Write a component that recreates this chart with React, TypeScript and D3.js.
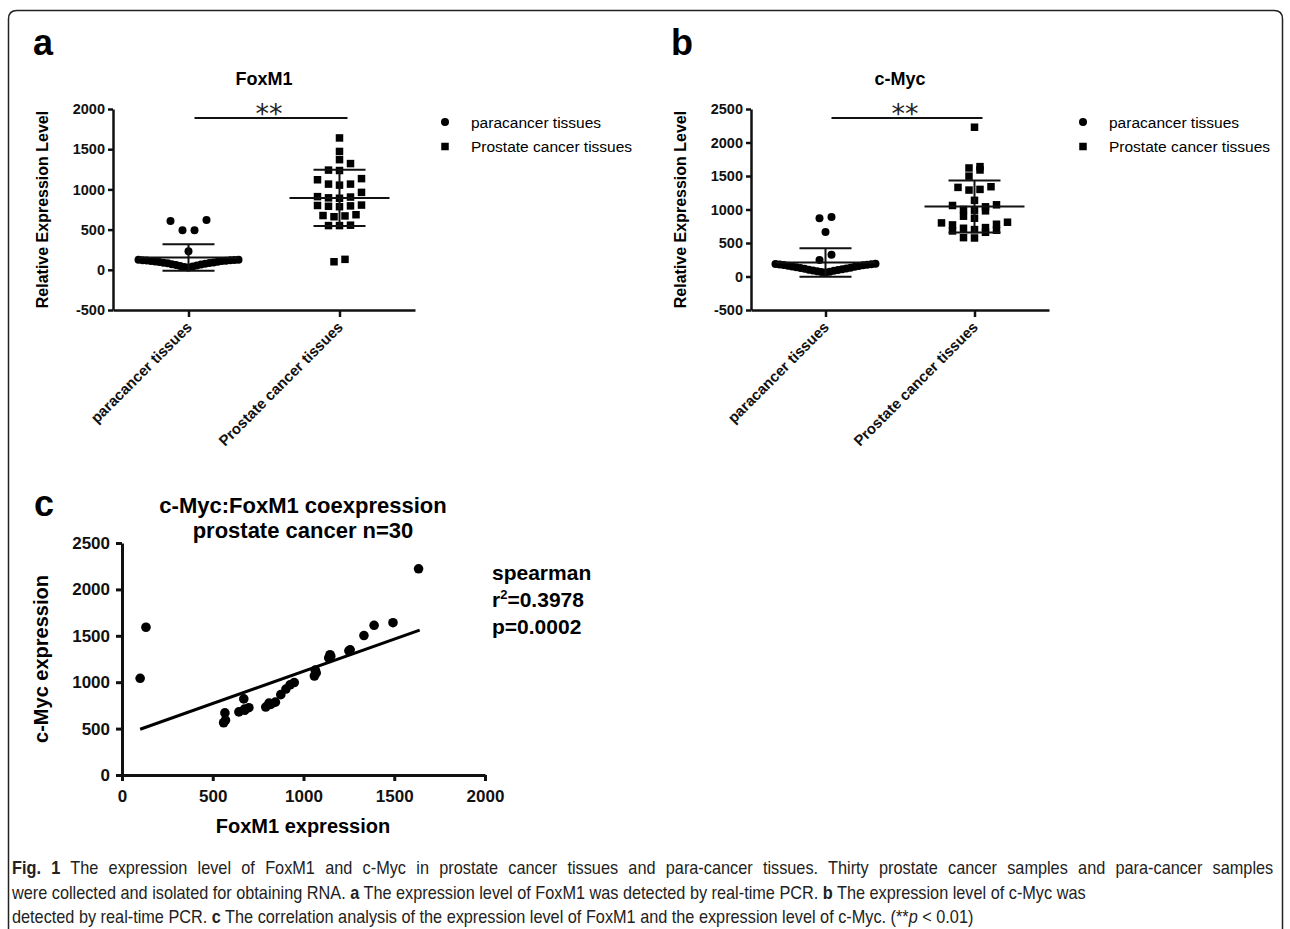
import { useEffect, useRef } from "react";
import * as d3 from "d3";

const FONT = "'Liberation Sans', Arial, Helvetica, sans-serif";

const groups = ["paracancer tissues", "Prostate cancer tissues"];

// panel a: FoxM1 relative expression
const foxm1Para = [
  608, 492, 492, 620, 230,
  30, 35, 42, 48, 55, 60, 65, 70, 75, 80, 84, 88, 92, 96, 100, 104, 108, 111, 114, 116, 118, 120, 122, 124, 125,
];
const foxm1Cancer = [
  1640, 1472, 1370, 1321, 1235, 1240, 1066, 1120, 1053, 1134, 1066, 963, 905, 895, 890,
  910, 800, 790, 785, 795, 805, 670, 660, 675, 685, 550, 550, 555, 100, 130,
];
const ticksA = [-500, 0, 500, 1000, 1500, 2000];

// panel b: c-Myc relative expression
const cmycPara = [
  887, 868, 665, 323, 248,
  60, 66, 72, 78, 84, 90, 96, 102, 108, 114, 120, 126, 132, 138, 144, 150, 156, 162, 168, 172, 176, 180, 184, 187, 190,
];
const cmycCancer = [
  2228, 1620, 1590, 1640, 1498, 1290, 1330, 1300, 1340, 1137, 1060, 1000, 980, 990, 1040,
  1070, 900, 810, 770, 780, 800, 870, 730, 690, 660, 680, 700, 720, 580, 575,
];
const ticksB = [-500, 0, 500, 1000, 1500, 2000, 2500];

// panel c: correlation, prostate cancer n=30
const coFoxm1 = [
  100, 132, 560, 567, 570, 644, 671, 676, 699, 675, 792, 810, 820, 845, 875,
  903, 926, 949, 1060, 1065, 1070, 1139, 1146, 1150, 1250, 1257, 1333, 1389, 1493, 1634,
];
const coCmyc = [
  1042, 1592, 563, 669, 590, 680, 820, 697, 725, 710, 732, 775, 760, 785, 866,
  926, 972, 996, 1067, 1130, 1100, 1261, 1296, 1280, 1338, 1349, 1503, 1613, 1641, 2222,
];
const fitSlope = 0.693;
const fitIntercept = 424;
const fitRange = [100, 1640];
const ticksCX = [0, 500, 1000, 1500, 2000];
const ticksCY = [0, 500, 1000, 1500, 2000, 2500];

const plain = (d) => String(d);

// GraphPad-like column scatter: rows of close values, spread centre-out
function swarm(values, y, rowH, step, maxW) {
  const idx = d3.range(values.length).sort((a, b) => values[a] - values[b]);
  const rows = [];
  let cur = [];
  let y0 = null;
  idx.forEach((i) => {
    const py = y(values[i]);
    if (y0 === null || y0 - py >= rowH) {
      if (cur.length) rows.push(cur);
      cur = [];
      y0 = py;
    }
    cur.push(i);
  });
  if (cur.length) rows.push(cur);
  const off = new Array(values.length).fill(0);
  rows.forEach((r) => {
    const n = r.length;
    const s = n > 1 ? Math.min(step, maxW / (n - 1)) : 0;
    r.forEach((i, k) => {
      let slot;
      if (n % 2 === 1) slot = k === 0 ? 0 : (k % 2 === 1 ? -1 : 1) * Math.ceil(k / 2);
      else slot = (k % 2 === 0 ? -1 : 1) * (Math.floor(k / 2) + 0.5);
      off[i] = slot * s;
    });
  });
  return off;
}

function styleAxis(g, size, stroke) {
  g.attr("font-family", FONT).attr("font-size", size).attr("font-weight", "bold");
  g.select(".domain").attr("stroke", "#111").attr("stroke-width", stroke);
  g.selectAll(".tick line").attr("stroke", "#111").attr("stroke-width", stroke);
  g.selectAll(".tick text").attr("fill", "#111");
}

function drawDotPanel(svg, cfg) {
  const { x0, x1, yTop, yBot, domain, ticks, title, para, cancer, legendX, letter, letterX } = cfg;
  const y = d3.scaleLinear().domain(domain).range([yBot, yTop]);
  const x = d3.scalePoint().domain(groups).range([x0, x1]).padding(0.5);
  const g = svg.append("g");

  g.append("text").attr("x", letterX).attr("y", 55).text(letter)
    .attr("font-family", FONT).attr("font-size", 36).attr("font-weight", "bold");

  g.append("text").attr("x", (x0 + x1) / 2).attr("y", 85).attr("text-anchor", "middle")
    .attr("font-family", FONT).attr("font-size", 18).attr("font-weight", "bold").text(title);

  g.append("g").attr("transform", `translate(${x0},0)`)
    .call(d3.axisLeft(y).tickValues(ticks).tickFormat(plain).tickSize(5).tickSizeOuter(0).tickPadding(3))
    .call((a) => styleAxis(a, 14.5, 2.5));

  g.append("g").attr("transform", `translate(0,${yBot})`)
    .call(d3.axisBottom(x).tickSize(7).tickSizeOuter(0))
    .call((a) => styleAxis(a, 15, 2.5))
    .call((a) => a.selectAll(".tick text")
      .attr("x", 0).attr("y", 0).attr("dy", null)
      .attr("transform", "translate(4,18) rotate(-45)")
      .attr("text-anchor", "end"));

  g.append("text")
    .attr("transform", `translate(${x0 - 65},${(yTop + yBot) / 2}) rotate(-90)`)
    .attr("text-anchor", "middle").attr("font-family", FONT).attr("font-size", 16)
    .attr("font-weight", "bold").text("Relative Expression Level");

  // significance bar
  const sx0 = x(groups[0]) + 6;
  const sx1 = x(groups[1]) + 8;
  g.append("line").attr("x1", sx0).attr("x2", sx1).attr("y1", 118).attr("y2", 118)
    .attr("stroke", "#111").attr("stroke-width", 2);
  g.append("text").attr("x", (sx0 + sx1) / 2 - 2).attr("y", 122.5).attr("text-anchor", "middle")
    .attr("font-family", "'DejaVu Sans', sans-serif").attr("font-size", 27).attr("fill", "#222").text("**");

  // points
  const offP = swarm(para, y, 11, 12, 100);
  g.append("g").selectAll("circle").data(para).join("circle")
    .attr("cx", (d, i) => x(groups[0]) + offP[i]).attr("cy", (d) => y(d))
    .attr("r", 4).attr("fill", "#000");
  const offC = swarm(cancer, y, 8, 11, 100);
  const sq = 7.5;
  g.append("g").selectAll("rect").data(cancer).join("rect")
    .attr("x", (d, i) => x(groups[1]) + offC[i] - sq / 2).attr("y", (d) => y(d) - sq / 2)
    .attr("width", sq).attr("height", sq).attr("fill", "#000");

  // mean +/- SD
  [para, cancer].forEach((vals, gi) => {
    const cx = x(groups[gi]);
    const m = d3.mean(vals);
    const sd = d3.deviation(vals);
    const eb = g.append("g").attr("stroke", "#111").attr("stroke-width", 2);
    eb.append("line").attr("x1", cx - 50).attr("x2", cx + 50).attr("y1", y(m)).attr("y2", y(m));
    eb.append("line").attr("x1", cx).attr("x2", cx).attr("y1", y(m - sd)).attr("y2", y(m + sd));
    [m - sd, m + sd].forEach((v) => {
      eb.append("line").attr("x1", cx - 26).attr("x2", cx + 26).attr("y1", y(v)).attr("y2", y(v));
    });
  });

  // legend
  const lg = g.append("g").attr("font-family", FONT).attr("font-size", 15.5);
  lg.append("circle").attr("cx", legendX).attr("cy", 122).attr("r", 4);
  lg.append("rect").attr("x", legendX - sq / 2).attr("y", 146.5 - sq / 2).attr("width", sq).attr("height", sq);
  lg.append("text").attr("x", legendX + 26).attr("y", 127.5).text(groups[0]);
  lg.append("text").attr("x", legendX + 26).attr("y", 152).text(groups[1]);
}

const App = () => {
  const svgRef = useRef();

  useEffect(() => {
    const svg = d3.select(svgRef.current);
    svg.selectAll("*").remove();

    // figure frame
    svg.append("path")
      .attr("d", "M8.5,935 L8.5,19 Q8.5,10.5 17,10.5 L1274,10.5 Q1282.5,10.5 1282.5,19 L1282.5,935")
      .attr("fill", "none").attr("stroke", "#222").attr("stroke-width", 1.5);

    drawDotPanel(svg, {
      x0: 113, x1: 415, yTop: 109, yBot: 310, domain: [-500, 2000], ticks: ticksA,
      title: "FoxM1", para: foxm1Para, cancer: foxm1Cancer, legendX: 445, letter: "a", letterX: 33,
    });
    drawDotPanel(svg, {
      x0: 751, x1: 1049, yTop: 109, yBot: 310, domain: [-500, 2500], ticks: ticksB,
      title: "c-Myc", para: cmycPara, cancer: cmycCancer, legendX: 1083, letter: "b", letterX: 671,
    });

    // panel c
    const gc = svg.append("g");
    const x = d3.scaleLinear().domain([0, 2000]).range([122, 485]);
    const y = d3.scaleLinear().domain([0, 2500]).range([775, 543]);

    gc.append("text").attr("x", 34).attr("y", 516).text("c")
      .attr("font-family", FONT).attr("font-size", 36).attr("font-weight", "bold");
    const tt = gc.append("text").attr("text-anchor", "middle").attr("font-family", FONT)
      .attr("font-size", 22).attr("font-weight", "bold");
    tt.append("tspan").attr("x", 303).attr("y", 513).text("c-Myc:FoxM1 coexpression");
    tt.append("tspan").attr("x", 303).attr("y", 538).text("prostate cancer n=30");

    gc.append("g").attr("transform", "translate(122,0)")
      .call(d3.axisLeft(y).tickValues(ticksCY).tickFormat(plain).tickSize(6).tickSizeOuter(0).tickPadding(6))
      .call((a) => styleAxis(a, 17, 3));
    gc.append("g").attr("transform", "translate(0,775)")
      .call(d3.axisBottom(x).tickValues(ticksCX).tickFormat(plain).tickSize(6).tickSizeOuter(0).tickPadding(9))
      .call((a) => styleAxis(a, 17, 3));

    gc.append("text").attr("x", 303).attr("y", 833).attr("text-anchor", "middle")
      .attr("font-family", FONT).attr("font-size", 20).attr("font-weight", "bold").text("FoxM1 expression");
    gc.append("text").attr("transform", "translate(48,659) rotate(-90)").attr("text-anchor", "middle")
      .attr("font-family", FONT).attr("font-size", 20).attr("font-weight", "bold").text("c-Myc expression");

    gc.append("line")
      .attr("x1", x(fitRange[0])).attr("y1", y(fitSlope * fitRange[0] + fitIntercept))
      .attr("x2", x(fitRange[1])).attr("y2", y(fitSlope * fitRange[1] + fitIntercept))
      .attr("stroke", "#000").attr("stroke-width", 3);

    gc.append("g").selectAll("circle").data(coFoxm1).join("circle")
      .attr("cx", (d) => x(d)).attr("cy", (d, i) => y(coCmyc[i])).attr("r", 4.8).attr("fill", "#000");

    const st = gc.append("g").attr("font-family", FONT).attr("font-size", 21).attr("font-weight", "bold");
    st.append("text").attr("x", 492).attr("y", 580).text("spearman");
    const r2 = st.append("text").attr("x", 492).attr("y", 607);
    r2.append("tspan").text("r");
    r2.append("tspan").attr("font-size", 13).attr("dy", -8).text("2");
    r2.append("tspan").attr("dy", 8).text("=0.3978");
    st.append("text").attr("x", 492).attr("y", 634).text("p=0.0002");

    // caption, condensed by a horizontal scale; first line justified
    const k = 0.875;
    const cap = svg.append("g").attr("transform", `scale(${k},1)`)
      .attr("font-family", FONT).attr("font-size", 18.6).attr("fill", "#222");
    const l1 = cap.append("text").attr("x", 12 / k).attr("y", 874).attr("word-spacing", 6.6);
    l1.append("tspan").attr("font-weight", "bold").text("Fig. 1");
    l1.append("tspan").text(" The expression level of FoxM1 and c-Myc in prostate cancer tissues and para-cancer tissues. Thirty prostate cancer samples and para-cancer samples");
    const l2 = cap.append("text").attr("x", 12 / k).attr("y", 899);
    l2.append("tspan").text("were collected and isolated for obtaining RNA. ");
    l2.append("tspan").attr("font-weight", "bold").text("a");
    l2.append("tspan").text(" The expression level of FoxM1 was detected by real-time PCR. ");
    l2.append("tspan").attr("font-weight", "bold").text("b");
    l2.append("tspan").text(" The expression level of c-Myc was");
    const l3 = cap.append("text").attr("x", 12 / k).attr("y", 923);
    l3.append("tspan").text("detected by real-time PCR. ");
    l3.append("tspan").attr("font-weight", "bold").text("c");
    l3.append("tspan").text(" The correlation analysis of the expression level of FoxM1 and the expression level of c-Myc. (**");
    l3.append("tspan").attr("font-style", "italic").text("p");
    l3.append("tspan").text(" < 0.01)");

    return () => {
      svg.selectAll("*").remove();
    };
  }, []);

  return (
    <svg
      ref={svgRef}
      width={1290}
      height={929}
      style={{ position: "absolute", left: 0, top: 0, background: "#fff" }}
    ></svg>
  );
};

export default App;
